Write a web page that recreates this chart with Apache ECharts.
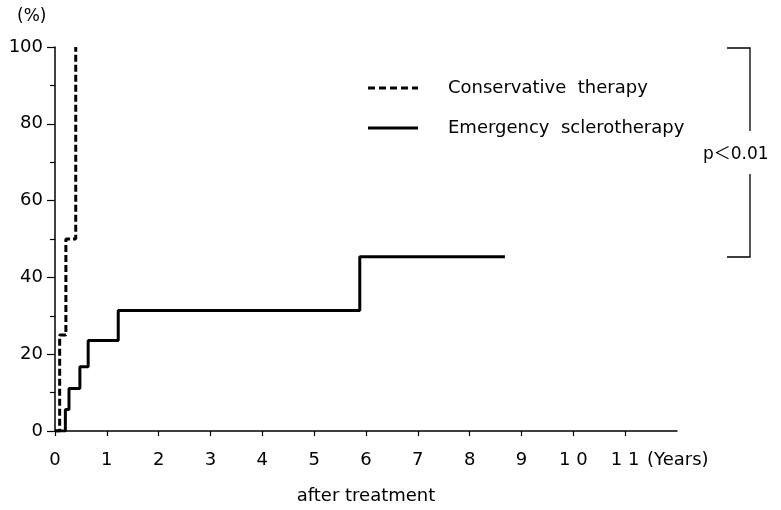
<!DOCTYPE html>
<html>
<head>
<meta charset="utf-8">
<script src="https://cdn.jsdelivr.net/npm/echarts@6/dist/echarts.min.js"></script>
<style>
html,body{margin:0;padding:0;background:#fff;}
#chart{width:781px;height:510px;}
</style>
</head>
<body>
<div id="chart"></div>
<script>
// Data (cumulative %, years after treatment)
var conservativeTimes = [0, 0.09, 0.21, 0.40];
var conservativeValues = [0, 25, 50, 100];
var sclerotherapyTimes = [0, 0.20, 0.27, 0.48, 0.64, 1.22, 5.88, 8.68];
var sclerotherapyValues = [0, 5.6, 11.1, 16.7, 23.6, 31.4, 45.4, 45.4];
var xTickValues = [0, 1, 2, 3, 4, 5, 6, 7, 8, 9, 10, 11];
var xTickLabels = ['0', '1', '2', '3', '4', '5', '6', '7', '8', '9', '1 0', '1 1'];
var seriesNames = ['Conservative  therapy', 'Emergency  sclerotherapy'];

function pairs(xs, ys) { return xs.map(function (x, i) { return [x, ys[i]]; }); }

var FONT = 'DejaVu Sans';
var chart = echarts.init(document.getElementById('chart'), null, {renderer: 'canvas'});
chart.setOption({
  animation: false,
  backgroundColor: '#fff',
  grid: {left: 55, right: 104, top: 47, bottom: 77, containLabel: false},
  xAxis: {
    type: 'value', min: 0, max: 12, interval: 1,
    name: 'after treatment', nameLocation: 'middle', nameGap: 56,
    nameTextStyle: {fontFamily: FONT, fontSize: 18, color: '#000'},
    axisLine: {show: true, lineStyle: {color: '#000', width: 1.5}},
    axisTick: {show: true, length: 5, lineStyle: {color: '#000', width: 1.2}, customValues: xTickValues},
    axisLabel: {
      color: '#000', fontFamily: FONT, fontSize: 18, margin: 20,
      customValues: xTickValues,
      formatter: function (v) { var i = xTickValues.indexOf(v); return i >= 0 ? xTickLabels[i] : ''; }
    },
    splitLine: {show: false}
  },
  yAxis: {
    type: 'value', min: 0, max: 100, interval: 20,
    axisLine: {show: true, lineStyle: {color: '#000', width: 1.5}},
    axisTick: {show: true, length: 8, lineStyle: {color: '#000', width: 1.2}},
    minorTick: {show: true, splitNumber: 2, length: 5, lineStyle: {color: '#000', width: 1.2}},
    axisLabel: {color: '#000', fontFamily: FONT, fontSize: 18, margin: 12},
    splitLine: {show: false}
  },
  series: [
    {
      name: seriesNames[0], type: 'line', step: 'end', symbol: 'none',
      data: pairs(conservativeTimes, conservativeValues),
      lineStyle: {color: '#000', width: 3, type: [7, 3]}
    },
    {
      name: seriesNames[1], type: 'line', step: 'end', symbol: 'none',
      data: pairs(sclerotherapyTimes, sclerotherapyValues),
      lineStyle: {color: '#000', width: 3, type: 'solid'}
    }
  ],
  graphic: [
    {type: 'text', left: 17, top: 8, style: {text: '(%)', font: '17px "DejaVu Sans"', fill: '#000'}},
    {type: 'text', left: 647, top: 451, style: {text: '(Years)', font: '18px "DejaVu Sans"', fill: '#000'}},
    // legend
    {type: 'line', shape: {x1: 368, y1: 88, x2: 418, y2: 88}, style: {stroke: '#000', lineWidth: 3, lineDash: [7, 4]}},
    {type: 'text', x: 448, y: 88, style: {text: seriesNames[0], font: '18px "DejaVu Sans"', fill: '#000', verticalAlign: 'middle'}},
    {type: 'line', shape: {x1: 368, y1: 128, x2: 418, y2: 128}, style: {stroke: '#000', lineWidth: 3}},
    {type: 'text', x: 448, y: 128, style: {text: seriesNames[1], font: '18px "DejaVu Sans"', fill: '#000', verticalAlign: 'middle'}},
    // significance bracket
    {type: 'polyline', shape: {points: [[727, 48], [750, 48], [750, 131]]}, style: {stroke: '#000', lineWidth: 1.3, fill: null}},
    {type: 'polyline', shape: {points: [[750, 174], [750, 257], [727, 257]]}, style: {stroke: '#000', lineWidth: 1.3, fill: null}},
    {type: 'text', x: 703, y: 155, style: {text: 'p＜0.01', font: '17px "DejaVu Sans", "Noto Sans CJK JP"', fill: '#000', verticalAlign: 'middle'}}
  ]
});
</script>
</body>
</html>
